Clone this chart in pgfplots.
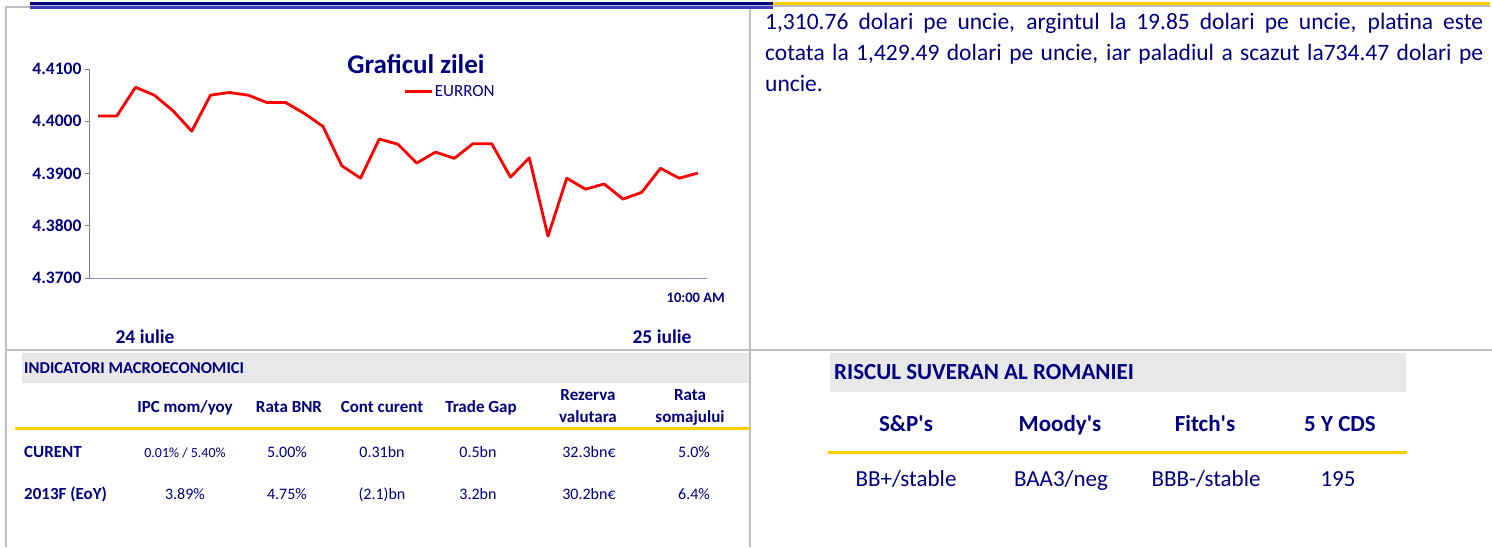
\documentclass[border=0pt]{standalone}
\usepackage{pgfplots}
\pgfplotsset{compat=1.18}
\usepackage{fontspec}
\setmainfont{Carlito}
\definecolor{navy}{RGB}{0,0,128}
\definecolor{bordergray}{RGB}{191,191,191}
\definecolor{bandgray}{RGB}{232,232,232}
\definecolor{gold}{RGB}{255,204,0}
\definecolor{barblue}{RGB}{60,60,200}
\definecolor{axisblue}{RGB}{140,140,200}
\newcommand{\fs}[1]{\fontsize{#1}{#1}\selectfont}
\newcommand{\q}{\textquotesingle}
\pgfplotstableread{
x y
0 4.4010
1 4.4010
2 4.4065
3 4.4050
4 4.4020
5 4.3981
6 4.4050
7 4.4055
8 4.4050
9 4.4036
10 4.4036
11 4.4015
12 4.3990
13 4.3915
14 4.3891
15 4.3966
16 4.3956
17 4.3920
18 4.3941
19 4.3929
20 4.3957
21 4.3957
22 4.3893
23 4.3930
24 4.3780
25 4.3891
26 4.3870
27 4.3880
28 4.3851
29 4.3864
30 4.3910
31 4.3891
32 4.3901
}\eurron
\begin{document}
\begin{tikzpicture}
\begin{scope}[x=1pt,y=-1pt]
\useasboundingbox (0,0) rectangle (1492,547);
% grey bands
\fill[bandgray] (22,353) rectangle (750,383);
\fill[bandgray] (830,353) rectangle (1406,392);
% borders
\draw[bordergray, line width=2pt] (6,547) -- (6,7) -- (30,7);
\draw[bordergray, line width=2pt] (750,9) -- (750,547);
\draw[bordergray, line width=2pt] (6,350) -- (1492,350);
% top bars
\fill[navy] (30,1.5) rectangle (773,4.8);
\fill[bordergray] (30,4.8) rectangle (773,6.3);
\fill[barblue] (30,6.3) rectangle (773,8.8);
\fill[gold] (773,1.5) rectangle (1490,4.8);
\fill[bordergray] (773,4.8) rectangle (1490,6.5);
% gold lines
\draw[gold, line width=3pt] (15,428) -- (750,428);
\draw[gold, line width=3pt] (828,452) -- (1407,452);
% right text
\begin{scope}[every node/.style={inner sep=0pt, text=navy, font=\fs{23.5}}]
\node[anchor=base west] at (765,29) {\makebox[718pt][s]{1,310.76 dolari pe uncie, argintul la 19.85 dolari pe uncie, platina este}};
\node[anchor=base west] at (765,60) {\makebox[718pt][s]{cotata la 1,429.49 dolari pe uncie, iar paladiul a scazut la734.47 dolari pe}};
\node[anchor=base west] at (765,91) {uncie.};
\end{scope}
% chart texts
\begin{scope}[every node/.style={inner sep=0pt, text=navy}]
\node[anchor=base, font=\bfseries\fs{27}] at (416,73) {Graficul zilei};
\node[anchor=base east, font=\bfseries\fs{14.5}] at (725,302) {10:00 AM};
\node[anchor=base, font=\bfseries\fs{19.5}] at (145,343) {24 iulie};
\node[anchor=base, font=\bfseries\fs{19.5}] at (662,343) {25 iulie};
\end{scope}
% left table
\begin{scope}[every node/.style={inner sep=0pt, text=navy, font=\fs{16}}]
\node[anchor=base west, font=\bfseries\fs{16.6}] at (24,373) {INDICATORI MACROECONOMICI};
\begin{scope}[every node/.append style={font=\bfseries\fs{17}}]
\node[anchor=base] at (185,412) {IPC mom/yoy};
\node[anchor=base] at (289,412) {Rata BNR};
\node[anchor=base] at (382,412) {Cont curent};
\node[anchor=base] at (481,412) {Trade Gap};
\node[anchor=base] at (588,400) {Rezerva};
\node[anchor=base] at (588,422) {valutara};
\node[anchor=base] at (690,400) {Rata};
\node[anchor=base] at (690,422) {somajului};
\node[anchor=base west] at (24,457) {CURENT};
\node[anchor=base west] at (24,499) {2013F (EoY)};
\end{scope}
\node[anchor=base, font=\fs{14}] at (185,457) {0.01\% / 5.40\%};
\node[anchor=base] at (287,457) {5.00\%};
\node[anchor=base] at (382,457) {0.31bn};
\node[anchor=base] at (478,457) {0.5bn};
\node[anchor=base] at (589,457) {32.3bn€};
\node[anchor=base] at (694,457) {5.0\%};
\node[anchor=base] at (185,499) {3.89\%};
\node[anchor=base] at (287,499) {4.75\%};
\node[anchor=base] at (382,499) {(2.1)bn};
\node[anchor=base] at (478,499) {3.2bn};
\node[anchor=base] at (589,499) {30.2bn€};
\node[anchor=base] at (694,499) {6.4\%};
\end{scope}
% right table
\begin{scope}[every node/.style={inner sep=0pt, text=navy, font=\fs{23}}]
\node[anchor=base west, font=\bfseries\fs{23}] at (834,379) {RISCUL SUVERAN AL ROMANIEI};
\node[anchor=base, font=\bfseries\fs{23}] at (906,431) {S\&P\q s};
\node[anchor=base, font=\bfseries\fs{23}] at (1060,431) {Moody\q s};
\node[anchor=base, font=\bfseries\fs{23}] at (1205,431) {Fitch\q s};
\node[anchor=base, font=\bfseries\fs{23}] at (1340,431) {5 Y CDS};
\node[anchor=base] at (906,486) {BB+/stable};
\node[anchor=base] at (1061,486) {BAA3/neg};
\node[anchor=base] at (1206,486) {BBB-/stable};
\node[anchor=base] at (1338,486) {195};
\end{scope}
\end{scope}
\begin{axis}[
  at={(90pt,-278pt)}, anchor=south west,
  scale only axis, width=617pt, height=209pt,
  xmin=-0.427, xmax=32.48, ymin=4.37, ymax=4.41,
  axis x line=bottom, axis y line=left,
  x axis line style={-, axisblue, line width=1pt},
  y axis line style={-, gray, line width=1pt},
  xtick=\empty,
  ytick={4.37,4.38,4.39,4.40,4.41},
  tick align=outside, major tick length=5pt,
  ytick style={gray, line width=1pt},
  yticklabel style={font=\bfseries\fs{17.5}, text=navy},
  /pgf/number format/.cd, fixed, fixed zerofill, precision=4, assume math mode=true,
  /pgfplots/.cd,
  legend style={at={(0.5075,0.89)}, anchor=west, draw=none, fill=none, inner sep=0pt,
    font=\fs{17}, text=navy, nodes={inner sep=1.5pt}},
  legend image code/.code={\draw[red, line width=3pt] (0pt,0pt) -- (27pt,0pt);},
]
\addplot[red, line width=2.8pt, line join=round] table[x=x,y=y] {\eurron};
\addlegendentry{EURRON}
\end{axis}
\end{tikzpicture}
\end{document}
